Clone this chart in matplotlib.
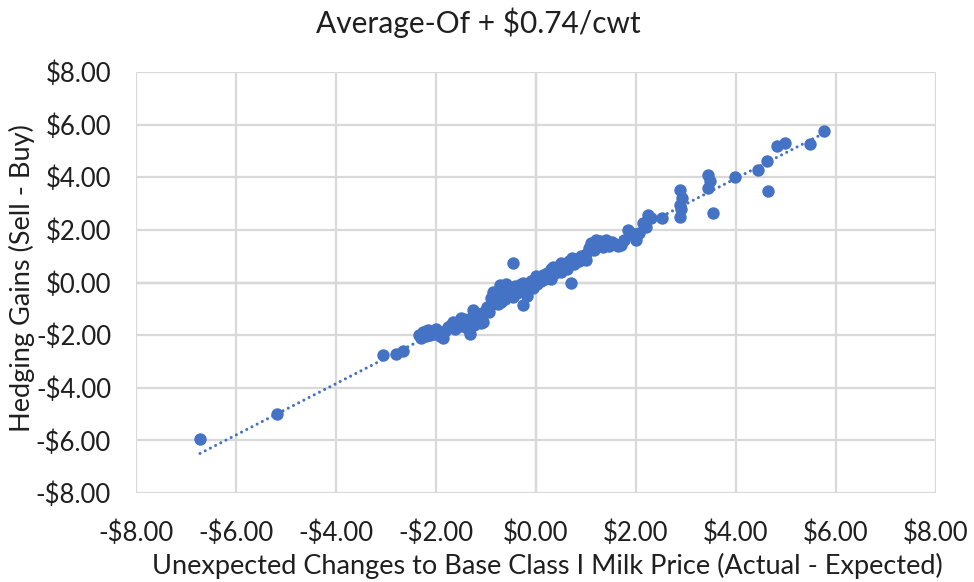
import numpy as np
import matplotlib
matplotlib.use("Agg")
import matplotlib.pyplot as plt
from matplotlib.ticker import FuncFormatter

# Unexpected change in base Class I price (Actual - Expected), $/cwt
price_change = [
    -6.72, -5.18, -3.06, -2.80, -2.66,
    -2.34, -2.30, -2.26, -2.20, -2.16, -2.12, -2.05, -1.98, -1.92, -1.86,
    -1.82, -1.76, -1.70, -1.66, -1.62, -1.58, -1.52, -1.48, -1.44, -1.40,
    -1.36, -1.32, -1.30, -1.26, -1.22, -1.18, -1.14, -1.10, -1.06, -1.02,
    -0.98, -0.94, -0.90, -0.86, -0.84, -0.80, -0.76, -0.72, -0.70, -0.66,
    -0.62, -0.58, -0.54, -0.50, -0.46, -0.46, -0.42, -0.38, -0.34, -0.30,
    -0.26, -0.26, -0.22, -0.18, -0.14, -0.10, -0.06, -0.02, 0.02, 0.06,
    0.10, 0.14, 0.18, 0.22, 0.26, 0.30, 0.34, 0.38, 0.42, 0.46,
    0.50, 0.54, 0.58, 0.62, 0.66, 0.70, 0.72, 0.76, 0.80, 0.86,
    0.90, 0.94, 1.00, 1.06, 1.10, 1.16, 1.22, 1.28, 1.34, 1.40,
    1.46, 1.52, 1.58, 1.64, 1.70, 1.76, 1.84, 1.90, 2.00, 2.06,
    2.14, 2.20, 2.24, 2.30, 2.52, 2.88, 2.90, 2.88, 2.92, 2.88,
    3.44, 3.48, 3.44, 3.54, 3.98, 4.44, 4.62, 4.64, 4.82, 4.98,
    5.48, 5.75,
    -2.20, -2.00, -1.50, -1.24, -0.90, -0.70, -0.60, 0.00, 0.30, 0.50,
    1.00, 1.20, 1.40,
]

# Hedging gains (Sell - Buy), $/cwt
hedging_gain = [
    -5.95, -5.00, -2.76, -2.70, -2.60,
    -1.98, -2.10, -1.88, -2.05, -1.80, -2.00, -1.95, -1.90, -2.05, -2.10,
    -1.85, -1.70, -1.62, -1.52, -1.75, -1.60, -1.48, -1.66, -1.40, -1.55,
    -1.78, -1.95, -1.35, -1.05, -1.25, -1.45, -1.20, -1.55, -1.50, -1.10,
    -0.95, -1.12, -0.85, -0.38, -0.70, -0.55, -0.80, -0.10, -0.45, -0.30,
    -0.62, -0.20, -0.48, -0.35, 0.76, -0.55, -0.15, -0.40, -0.25, -0.05,
    -0.84, 0.00, -0.30, -0.50, -0.10, 0.05, -0.20, 0.12, -0.05, 0.20,
    0.05, 0.30, 0.15, 0.38, 0.25, 0.50, 0.60, 0.35, 0.48, 0.62,
    0.40, 0.55, 0.70, 0.50, 0.80, 0.00, 0.95, 0.70, 0.90, 0.80,
    1.00, 0.95, 1.10, 1.30, 1.52, 1.25, 1.45, 1.56, 1.35, 1.50,
    1.40, 1.55, 1.45, 1.38, 1.42, 1.62, 2.00, 1.90, 1.62, 1.90,
    2.28, 2.10, 2.55, 2.45, 2.47, 2.50, 2.78, 2.95, 3.20, 3.50,
    3.60, 3.84, 4.10, 2.66, 4.00, 4.26, 4.60, 3.48, 5.17, 5.32,
    5.25, 5.75,
    -1.85, -1.75, -1.35, -1.60, -0.60, -0.75, -0.05, 0.25, 0.15, 0.75,
    0.85, 1.60, 1.62,
]

title_text = "Average-Of + $0.74/cwt"
x_label = "Unexpected Changes to Base Class I Milk Price (Actual - Expected)"
y_label = "Hedging Gains (Sell - Buy)"
tick_values = [-8, -6, -4, -2, 0, 2, 4, 6, 8]

blue = "#4472C4"
grid_grey = "#D9D9D9"
text_col = "#1F1F1F"

plt.rcParams["font.family"] = ["Lato", "DejaVu Sans"]

W, H = 974, 582
fig = plt.figure(figsize=(W / 100, H / 100), dpi=100)
ax = fig.add_axes([136 / W, 1 - 493 / H, 800 / W, 421 / H])

x = np.array(price_change)
y = np.array(hedging_gain)

ax.scatter(x, y, s=80, color=blue, zorder=3, linewidths=0)

# Linear trendline across the observed range
slope, intercept = np.polyfit(x, y, 1)
xs = np.array([x.min(), x.max()])
ax.plot(xs, slope * xs + intercept, color=blue, lw=2.2,
        linestyle=(0, (0.01, 1.9)), dash_capstyle="round", zorder=4)

ax.set_xlim(-8, 8)
ax.set_ylim(-8, 8)
ax.set_xticks(tick_values)
ax.set_yticks(tick_values)

def money(v, _pos):
    return f"-${abs(v):.2f}" if v < 0 else f"${v:.2f}"

ax.xaxis.set_major_formatter(FuncFormatter(money))
ax.yaxis.set_major_formatter(FuncFormatter(money))

ax.grid(True, color=grid_grey, lw=1.6, zorder=0)
ax.axvline(0, color="#BFBFBF", lw=1.6, zorder=1)
ax.axhline(0, color="#BFBFBF", lw=1.6, zorder=1)
for s in ax.spines.values():
    s.set_visible(False)
ax.tick_params(axis="both", length=0, labelsize=18.5, colors=text_col)
ax.tick_params(axis="x", pad=20)
ax.tick_params(axis="y", pad=18)

fig.text(478 / W, 1 - 23 / H, title_text, fontsize=21.5, color=text_col,
         ha="center", va="center")
fig.text(547 / W, 1 - 566 / H, x_label, fontsize=19.5, color=text_col,
         ha="center", va="center")
fig.text(22 / W, 1 - 278 / H, y_label, fontsize=19.5, color=text_col,
         ha="center", va="center", rotation=90)

fig.savefig("out.png", dpi=100, facecolor="white")
